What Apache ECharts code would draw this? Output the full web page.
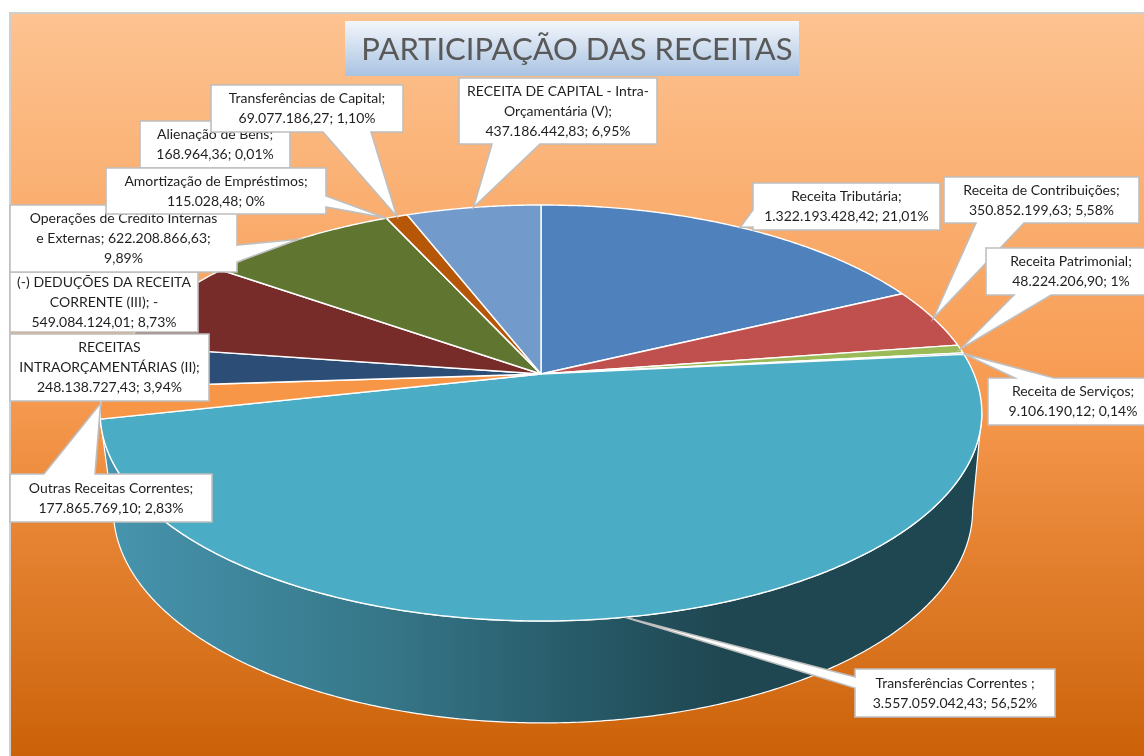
<!DOCTYPE html>
<html>
<head>
<meta charset="utf-8">
<title>Participação das receitas</title>
<script src="https://cdn.jsdelivr.net/npm/echarts@6/dist/echarts.min.js"></script>
<style>
  html, body { margin: 0; padding: 0; background: #fff; }
  #chart { width: 1144px; height: 756px; }
</style>
</head>
<body>
<div id="chart"></div>
<script>
// valores em ordem horaria a partir do topo (deducoes entram em modulo, como no Excel)
var categories = [
  "Receita Tributária", "Receita de Contribuições", "Receita Patrimonial", "Receita de Serviços",
  "Transferências Correntes", "Outras Receitas Correntes", "RECEITAS INTRAORÇAMENTÁRIAS (II)",
  "(-) DEDUÇÕES DA RECEITA CORRENTE (III)", "Operações de Crédito Internas e Externas",
  "Alienação de Bens", "Amortização de Empréstimos", "Transferências de Capital",
  "RECEITA DE CAPITAL - Intra-Orçamentária (V)"
];
var values = [
  1322193428.42, 350852199.63, 48224206.90, 9106190.12,
  3557059042.43, 177865769.10, 248138727.43,
  549084124.01, 622208866.63,
  168964.36, 115028.48, 69077186.27,
  437186442.83
];
var labelTexts = [
  "Receita Tributária;\n1.322.193.428,42; 21,01%",
  "Receita de Contribuições;\n350.852.199,63; 5,58%",
  "Receita Patrimonial;\n48.224.206,90; 1%",
  "Receita de Serviços;\n9.106.190,12; 0,14%",
  "Transferências Correntes ;\n3.557.059.042,43; 56,52%",
  "Outras Receitas Correntes;\n177.865.769,10; 2,83%",
  "RECEITAS\nINTRAORÇAMENTÁRIAS (II);\n248.138.727,43; 3,94%",
  "(-) DEDUÇÕES DA RECEITA\nCORRENTE (III); -\n549.084.124,01; 8,73%",
  "Operações de Crédito Internas\ne Externas; 622.208.866,63;\n9,89%",
  "Alienação de Bens;\n168.964,36; 0,01%",
  "Amortização de Empréstimos;\n115.028,48; 0%",
  "Transferências de Capital;\n69.077.186,27; 1,10%",
  "RECEITA DE CAPITAL - Intra-\nOrçamentária (V);\n437.186.442,83; 6,95%"
];
var sliceColors = [
  "#4F81BD", "#C0504D", "#9BBB59", "#8064A2", "#4BACC6", "#F79646", "#2C4D75",
  "#772C2A", "#5F7530", "#4D3B62", "#276A7C", "#B65708", "#729ACA"
];

// caixas dos rotulos: [x, y, w, h], lado da seta e inicio/fim da base da seta
var labelBoxes = [
  { box: [753, 183, 187, 47], side: "left", base: [210, 227] },
  { box: [944, 177, 195, 46], side: "bottom", base: [976, 1024] },
  { box: [986, 248, 170, 47], side: "bottom", base: [1014, 1051] },
  { box: [988, 378, 170, 47], side: "top", base: [1015, 1054] },
  { box: [855, 669, 200, 48], side: "left", base: [677, 688] },
  { box: [10, 474, 202, 48], side: "top", base: [44, 95] },
  { box: [10, 334, 199, 67], side: null },
  { box: [10, 272, 188, 60], side: null },
  { box: [10, 205, 227, 67], side: "right", base: [245, 262] },
  { box: [140, 121, 150, 47], side: null },
  { box: [106, 168, 220, 46], side: "right", base: [196, 207] },
  { box: [211, 85, 192, 47], side: "bottom", base: [323, 371] },
  { box: [459, 78, 198, 66], side: "bottom", base: [492, 540] }
];

var FONT = "Lato";
var topRing = { cx: 541, cy: 374, A: 433, B: 200.7, k: 0.1875 };
var bottomRing = { cx: 543, cy: 470, A: 422, B: 205.5, k: 0.1875 };

var total = values.reduce(function (a, b) { return a + b; }, 0);
var startAngles = [];
var acc = 0;
values.forEach(function (v) {
  startAngles.push(acc / total * 360);
  acc += v;
});
startAngles.push(360);

// ponto da borda em perspectiva, theta em graus a partir do topo
function ringPoint(ring, theta) {
  var t = theta * Math.PI / 180;
  var X = Math.sin(t);
  var Y = -Math.cos(t);
  var w = 1 - ring.k * Y;
  return [ring.cx + ring.A * X / w, ring.cy + ring.B * Y / w];
}

function arcPoints(ring, from, to) {
  var pts = [];
  var steps = Math.max(2, Math.ceil(Math.abs(to - from) * 2));
  for (var i = 0; i <= steps; i++) {
    pts.push(ringPoint(ring, from + (to - from) * i / steps));
  }
  return pts;
}

function renderWall(params, api) {
  var i = api.value(0);
  var start = Math.acos(-topRing.k) * 180 / Math.PI; // ponto mais a direita
  var end = startAngles[i + 1];
  var pts = arcPoints(topRing, start, end).concat(arcPoints(bottomRing, end, start));
  return {
    type: "polygon",
    shape: { points: pts },
    style: {
      fill: {
        type: "linear", x: 103, y: 0, x2: 720, y2: 0, global: true,
        colorStops: [
          { offset: 0, color: "#4795AF" },
          { offset: 0.45, color: "#367789" },
          { offset: 0.75, color: "#285C6B" },
          { offset: 1, color: "#1F4751" }
        ]
      },
      stroke: "#fff",
      lineWidth: 1.2
    }
  };
}

function renderSlice(params, api) {
  var i = api.value(0);
  var pts = [[topRing.cx, topRing.cy]].concat(arcPoints(topRing, startAngles[i], startAngles[i + 1]));
  return {
    type: "polygon",
    shape: { points: pts },
    style: { fill: sliceColors[i], stroke: "#fff", lineWidth: 1.4, lineJoin: "round" }
  };
}

function renderLabel(params, api) {
  var i = api.value(0);
  var l = labelBoxes[i];
  var x = l.box[0], y = l.box[1], w = l.box[2], h = l.box[3];
  var pts = [[x, y]];
  var tip = ringPoint(topRing, (startAngles[i] + startAngles[i + 1]) / 2);
  if (l.side === "top") pts.push([l.base[0], y], tip, [l.base[1], y]);
  pts.push([x + w, y]);
  if (l.side === "right") pts.push([x + w, l.base[0]], tip, [x + w, l.base[1]]);
  pts.push([x + w, y + h]);
  if (l.side === "bottom") pts.push([l.base[1], y + h], tip, [l.base[0], y + h]);
  pts.push([x, y + h]);
  if (l.side === "left") pts.push([x, l.base[1]], tip, [x, l.base[0]]);
  return {
    type: "group",
    children: [
      {
        type: "polygon",
        shape: { points: pts },
        style: { fill: "#fff", stroke: "#BFBFBF", lineWidth: 1.6 }
      },
      {
        type: "text",
        style: {
          text: labelTexts[i],
          x: x + w / 2,
          y: y + h / 2,
          align: "center",
          verticalAlign: "middle",
          font: "14px " + FONT,
          lineHeight: 20,
          fill: "#1F1F1F"
        }
      }
    ]
  };
}

var chart = echarts.init(document.getElementById("chart"), null, { renderer: "canvas" });
var indices = values.map(function (v, i) { return [i]; });

chart.setOption({
  animation: false,
  title: {
    text: "PARTICIPAÇÃO DAS RECEITAS",
    left: 572,
    top: 29,
    textAlign: "center",
    textStyle: { fontFamily: FONT, fontSize: 31, fontWeight: "normal", color: "#595959" },
    z: 6
  },
  graphic: [
    {
      type: "rect",
      z: -10,
      silent: true,
      shape: { x: 10, y: 13, width: 1150, height: 760 },
      style: {
        fill: {
          type: "linear", x: 0, y: 0, x2: 0, y2: 1,
          colorStops: [
            { offset: 0, color: "#FDC391" },
            { offset: 0.5, color: "#F79A50" },
            { offset: 1, color: "#C95F05" }
          ]
        },
        stroke: "#CFCFCF",
        lineWidth: 2
      }
    },
    {
      type: "rect",
      z: 5,
      silent: true,
      shape: { x: 345, y: 21, width: 454, height: 55 },
      style: {
        fill: {
          type: "linear", x: 0, y: 0, x2: 0, y2: 1,
          colorStops: [
            { offset: 0, color: "#F3F6FB" },
            { offset: 1, color: "#A9C3E2" }
          ]
        }
      }
    }
  ],
  series: [
    {
      type: "custom",
      name: "lateral",
      coordinateSystem: "none",
      silent: true,
      renderItem: renderWall,
      data: [[categories.indexOf("Transferências Correntes")]],
      z: 1
    },
    {
      type: "custom",
      name: "fatias",
      coordinateSystem: "none",
      silent: true,
      renderItem: renderSlice,
      data: indices,
      z: 2
    },
    {
      type: "custom",
      name: "rotulos",
      coordinateSystem: "none",
      silent: true,
      renderItem: renderLabel,
      data: indices,
      z: 3
    }
  ]
});
</script>
</body>
</html>
